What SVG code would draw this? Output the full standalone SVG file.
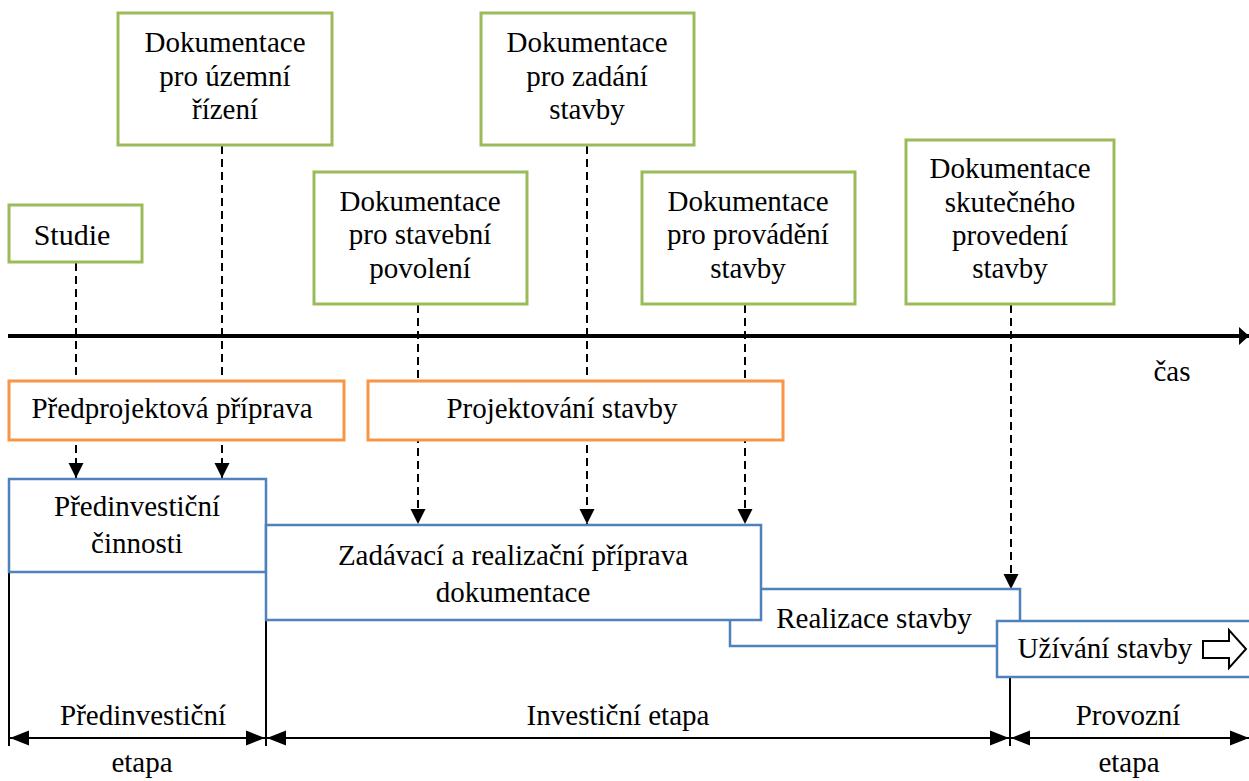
<svg xmlns="http://www.w3.org/2000/svg" width="1249" height="781" viewBox="0 0 1249 781" font-family="Liberation Serif, DejaVu Serif, serif">
<style>
text{font-size:29px;fill:#000;text-anchor:middle}
.g{fill:#fff;stroke:#9bbb59;stroke-width:3}
.o{fill:#fff;stroke:#f79646;stroke-width:3}
.b{fill:#fff;stroke:#4f81bd;stroke-width:2.5}
.d{fill:none;stroke:#000;stroke-width:2;stroke-dasharray:8,5}
.k{fill:none;stroke:#000;stroke-width:2}
</style>
<defs>
<marker id="ad" markerUnits="userSpaceOnUse" markerWidth="16" markerHeight="16" refX="15" refY="8" orient="auto" viewBox="0 0 16 16"><path d="M0,0.5 L15,8 L0,15.5 Z" fill="#000"/></marker>
<marker id="ab" markerUnits="userSpaceOnUse" markerWidth="20" markerHeight="16" refX="19" refY="8" orient="auto-start-reverse" viewBox="0 0 20 16"><path d="M0,0.5 L19,8 L0,15.5 Z" fill="#000"/></marker>
<marker id="at" markerUnits="userSpaceOnUse" markerWidth="11" markerHeight="20" refX="10" refY="10" orient="auto" viewBox="0 0 11 20"><path d="M0,1 L10,10 L0,19 Z" fill="#000"/></marker>
</defs>
<g id="connectors">
<line class="d" x1="76" y1="263" x2="76" y2="478" marker-end="url(#ad)"/>
<line class="d" x1="222" y1="146" x2="222" y2="478" marker-end="url(#ad)"/>
<line class="d" x1="418" y1="305" x2="418" y2="524" marker-end="url(#ad)"/>
<line class="d" x1="587" y1="146" x2="587" y2="524" marker-end="url(#ad)"/>
<line class="d" x1="745" y1="305" x2="745" y2="524" marker-end="url(#ad)"/>
<line class="d" x1="1011" y1="305" x2="1011" y2="589" marker-end="url(#ad)"/>
<line x1="8" y1="336" x2="1249" y2="336" stroke="#000" stroke-width="4" marker-end="url(#at)"/>
<line class="k" x1="9" y1="572" x2="9" y2="746"/>
<line class="k" x1="266" y1="572" x2="266" y2="746"/>
<line class="k" x1="1010" y1="677" x2="1010" y2="746"/>
<line class="k" x1="10" y1="738" x2="265" y2="738" marker-start="url(#ab)" marker-end="url(#ab)"/>
<line class="k" x1="267" y1="738" x2="1009" y2="738" marker-start="url(#ab)" marker-end="url(#ab)"/>
<line class="k" x1="1011" y1="738" x2="1249" y2="738" marker-start="url(#ab)" marker-end="url(#ab)"/>
</g>
<g id="studie"><rect class="g" x="9" y="205" width="133" height="57"/><text x="72" y="245" style="font-size:30px">Studie</text></g>
<g id="doc-uzemni"><rect class="g" x="118" y="13" width="214" height="132"/><text x="225" y="52">Dokumentace</text><text x="225" y="86">pro územní</text><text x="225" y="119">řízení</text></g>
<g id="doc-zadani"><rect class="g" x="481" y="13" width="213" height="132"/><text x="587" y="52">Dokumentace</text><text x="587" y="86">pro zadání</text><text x="587" y="119">stavby</text></g>
<g id="doc-stavebni"><rect class="g" x="314" y="172" width="213" height="132"/><text x="420" y="211">Dokumentace</text><text x="420" y="244">pro stavební</text><text x="420" y="278">povolení</text></g>
<g id="doc-provadeni"><rect class="g" x="642" y="172" width="213" height="132"/><text x="748" y="211">Dokumentace</text><text x="748" y="244">pro provádění</text><text x="748" y="278">stavby</text></g>
<g id="doc-skutecne"><rect class="g" x="906" y="140" width="208" height="164"/><text x="1010" y="178">Dokumentace</text><text x="1010" y="212">skutečného</text><text x="1010" y="245">provedení</text><text x="1010" y="278">stavby</text></g>
<g id="cas"><text x="1172" y="381">čas</text></g>
<g id="predprojektova"><rect class="o" x="9" y="381" width="335" height="59"/><text x="172" y="418">Předprojektová příprava</text></g>
<g id="projektovani"><rect class="o" x="368" y="381" width="415" height="59"/><text x="562" y="418">Projektování stavby</text></g>
<g id="realizace"><rect class="b" x="730" y="589" width="290" height="57"/><text x="874" y="628">Realizace stavby</text></g>
<g id="predinvesticni-cinnosti"><rect class="b" x="9" y="479" width="257" height="93"/><text x="137" y="516">Předinvestiční</text><text x="137" y="553">činnosti</text></g>
<g id="zadavaci"><rect class="b" x="266" y="525" width="495" height="95"/><text x="513" y="565">Zadávací a realizační příprava</text><text x="513" y="602">dokumentace</text></g>
<g id="uzivani"><rect class="b" x="997" y="621" width="260" height="56"/><text x="1105" y="658">Užívání stavby</text><path d="M1203,641 L1229,641 L1229,630 L1246,649 L1229,668 L1229,658 L1203,658 Z" fill="#fff" stroke="#000" stroke-width="2"/></g>
<g id="labels">
<text x="143" y="725">Předinvestiční</text><text x="142" y="772">etapa</text>
<text x="618" y="725">Investiční etapa</text>
<text x="1128" y="725">Provozní</text><text x="1129" y="772">etapa</text>
</g>
</svg>
